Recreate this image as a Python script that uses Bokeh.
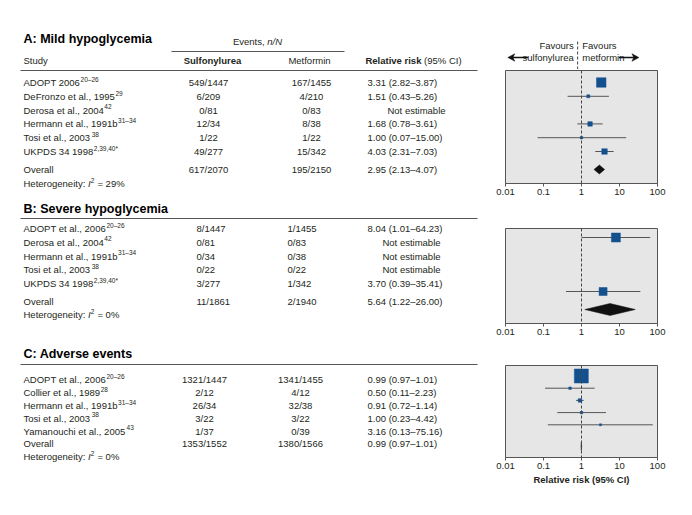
import math
from bokeh.plotting import figure
from bokeh.layouts import row, column
from bokeh.models import (Range1d, Span, FixedTicker,
                          CustomJSTickFormatter, ColumnDataSource)
from bokeh.embed import file_html
from bokeh.resources import INLINE
from bokeh.core.properties import value

# ------------------------------------------------------------------ data
# A: Mild hypoglycemia
a_studies = ["ADOPT 2006", "DeFronzo et al., 1995", "Derosa et al., 2004",
             "Hermann et al., 1991b", "Tosi et al., 2003", "UKPDS 34 1998"]
a_refs = ["20–26", "29", "42", "31–34", "38", "2,39,40*"]
a_sulf_e = [549, 6, 0, 12, 1, 49]
a_sulf_n = [1447, 209, 81, 34, 22, 277]
a_met_e = [167, 4, 0, 8, 1, 15]
a_met_n = [1455, 210, 83, 38, 22, 342]
a_rr = [3.31, 1.51, None, 1.68, 1.00, 4.03]
a_lo = [2.82, 0.43, None, 0.78, 0.07, 2.31]
a_hi = [3.87, 5.26, None, 3.61, 15.00, 7.03]
a_overall_events = [617, 2070, 195, 2150]
a_overall_rr = [2.95, 2.13, 4.07]
a_i2 = 29

# B: Severe hypoglycemia
b_studies = ["ADOPT et al., 2006", "Derosa et al., 2004", "Hermann et al., 1991b",
             "Tosi et al., 2003", "UKPDS 34 1998"]
b_refs = ["20–26", "42", "31–34", "38", "2,39,40*"]
b_sulf_e = [8, 0, 0, 0, 3]
b_sulf_n = [1447, 81, 34, 22, 277]
b_met_e = [1, 0, 0, 0, 1]
b_met_n = [1455, 83, 38, 22, 342]
b_rr = [8.04, None, None, None, 3.70]
b_lo = [1.01, None, None, None, 0.39]
b_hi = [64.23, None, None, None, 35.41]
b_overall_events = [11, 1861, 2, 1940]
b_overall_rr = [5.64, 1.22, 26.00]
b_i2 = 0

# C: Adverse events
c_studies = ["ADOPT et al., 2006", "Collier et al., 1989", "Hermann et al., 1991b",
             "Tosi et al., 2003", "Yamanouchi et al., 2005"]
c_refs = ["20–26", "28", "31–34", "38", "43"]
c_sulf_e = [1321, 2, 26, 3, 1]
c_sulf_n = [1447, 12, 34, 22, 37]
c_met_e = [1341, 4, 32, 3, 0]
c_met_n = [1455, 12, 38, 22, 39]
c_rr = [0.99, 0.50, 0.91, 1.00, 3.16]
c_lo = [0.97, 0.11, 0.72, 0.23, 0.13]
c_hi = [1.01, 2.23, 1.14, 4.42, 75.16]
c_overall_events = [1353, 1552, 1380, 1566]
c_overall_rr = [0.99, 0.97, 1.01]
c_i2 = 0

tick_values = [0.01, 0.1, 1, 10, 100]
null_value = 1

# ------------------------------------------------------------------ style
FONT = "Liberation Sans"
TXT = "#231f20"
BLUE = "#13508e"
BOX = "#e6e6e6"
EDGE = "#555555"
FS = 9.5
SUP = 6.5

REG = {' ': 278, ',': 278, '.': 278, ':': 278, '/': 278, '–': 556, '(': 333, ')': 333,
       '%': 889, '*': 389, '=': 584, '-': 333}
BLD = {' ': 278, ',': 278, '.': 278, ':': 333, '/': 278, '–': 556, '(': 333, ')': 333,
       '%': 889, '*': 389, '=': 584, '-': 333}
for ch in "0123456789":
    REG[ch] = 556
    BLD[ch] = 556
REG.update(dict(zip("ABCDEFGHIJKLMNOPQRSTUVWXYZ",
                    [667, 667, 722, 722, 667, 611, 778, 722, 278, 500, 667, 556, 833, 722,
                     778, 667, 778, 722, 667, 611, 722, 667, 944, 667, 667, 611])))
REG.update(dict(zip("abcdefghijklmnopqrstuvwxyz",
                    [556, 556, 500, 556, 556, 278, 556, 556, 222, 222, 500, 222, 833, 556,
                     556, 556, 556, 333, 500, 278, 556, 500, 722, 500, 500, 500])))
BLD.update(dict(zip("ABCDEFGHIJKLMNOPQRSTUVWXYZ",
                    [722, 722, 722, 722, 667, 611, 778, 722, 278, 556, 722, 611, 833, 722,
                     778, 667, 778, 722, 667, 611, 722, 667, 944, 667, 667, 611])))
BLD.update(dict(zip("abcdefghijklmnopqrstuvwxyz",
                    [556, 611, 556, 611, 556, 333, 611, 611, 278, 278, 556, 278, 889, 611,
                     611, 611, 611, 389, 556, 333, 611, 556, 778, 556, 556, 500])))


def tw(s, size=FS, bold=False):
    tab = BLD if bold else REG
    return sum(tab.get(c, 556) for c in s) * size / 1000.0


class Texts:
    def __init__(self):
        self.groups = {}

    def add(self, x, y, s, size=FS, style="normal", align="left", color=TXT):
        key = (size, style, align, color)
        g = self.groups.setdefault(key, dict(x=[], y=[], text=[]))
        g["x"].append(x)
        g["y"].append(y)
        g["text"].append(s)

    def draw(self, p):
        for (size, style, align, color), g in self.groups.items():
            p.text(x="x", y="y", text="text", source=ColumnDataSource(g),
                   text_font=value(FONT), text_font_size=value(f"{size}px"),
                   text_font_style=value(style), text_align=value(align),
                   text_baseline=value("middle"), text_color=color)


def fmt_rr(r, l, h):
    return f"{r:.2f} ({l:.2f}–{h:.2f})"


# ------------------------------------------------------------------ table
T = Texts()
segs = dict(x0=[], y0=[], x1=[], y1=[])


def hline(x0, x1, y):
    segs["x0"].append(x0); segs["x1"].append(x1)
    segs["y0"].append(y); segs["y1"].append(y)


NAME_X = 23
RR_X = 367


def study_name(name, ref, y):
    T.add(NAME_X, y, name)
    T.add(NAME_X + tw(name) + 0.6, y - 3.3, ref, size=SUP)


def heterogeneity(y, i2):
    a = "Heterogeneity:"
    T.add(NAME_X, y, a)
    x = NAME_X + tw(a + " ")
    T.add(x, y, "I", style="italic")
    x += tw("I")
    T.add(x + 0.3, y - 3.3, "2", size=SUP)
    x += tw("2", SUP) + 0.6
    T.add(x + tw(" "), y, f"= {i2}%")


def panel_table(title, title_y, row_ys, ov_y, het_y, studies, refs, se, sn, me, mn,
                rr, lo, hi, ov_ev, ov_rr, i2, sulf_pos, met_pos, ne_x):
    T.add(NAME_X, title_y, title, size=12.5, style="bold", color="#000000")
    for i, y in enumerate(row_ys):
        study_name(studies[i], refs[i], y)
        T.add(sulf_pos[0], y, f"{se[i]}/{sn[i]}", align=sulf_pos[1])
        T.add(met_pos[0], y, f"{me[i]}/{mn[i]}", align=met_pos[1])
        if rr[i] is None:
            T.add(ne_x, y, "Not estimable", align="center")
        else:
            T.add(RR_X, y, fmt_rr(rr[i], lo[i], hi[i]))
    T.add(NAME_X, ov_y, "Overall")
    T.add(sulf_pos[0], ov_y, f"{ov_ev[0]}/{ov_ev[1]}", align=sulf_pos[1])
    T.add(met_pos[0], ov_y, f"{ov_ev[2]}/{ov_ev[3]}", align=met_pos[1])
    T.add(RR_X, ov_y, fmt_rr(*ov_rr))
    heterogeneity(het_y, i2)


# column headers (panel A)
ev_a, ev_b = "Events,", "n/N"
ex = 257 - (tw(ev_a + " ") + tw(ev_b)) / 2
T.add(ex, 41, ev_a)
T.add(ex + tw(ev_a + " "), 41, ev_b, style="italic")
hline(171, 344, 51)
T.add(NAME_X, 60, "Study")
T.add(212, 60, "Sulfonylurea", style="bold", align="center")
T.add(309, 60, "Metformin", align="center")
rr_a, rr_b = "Relative risk", "(95% CI)"
rx = 413 - (tw(rr_a + " ", bold=True) + tw(rr_b)) / 2
T.add(rx, 60, rr_a, style="bold")
T.add(rx + tw(rr_a + " ", bold=True), 60, rr_b)
hline(20, 477, 70)

panel_table("A: Mild hypoglycemia", 38, [82 + 13.8 * i for i in range(6)], 169, 183,
            a_studies, a_refs, a_sulf_e, a_sulf_n, a_met_e, a_met_n, a_rr, a_lo, a_hi,
            a_overall_events, a_overall_rr, a_i2, (208, "center"), (311, "center"), 416)

hline(20, 477, 218)
panel_table("B: Severe hypoglycemia", 208, [228 + 13.75 * i for i in range(5)], 301, 314,
            b_studies, b_refs, b_sulf_e, b_sulf_n, b_met_e, b_met_n, b_rr, b_lo, b_hi,
            b_overall_events, b_overall_rr, b_i2, (196, "left"), (287, "left"), 411)

hline(20, 477, 364)
panel_table("C: Adverse events", 353, [379 + 12.9 * i for i in range(5)], 443, 456,
            c_studies, c_refs, c_sulf_e, c_sulf_n, c_met_e, c_met_n, c_rr, c_lo, c_hi,
            c_overall_events, c_overall_rr, c_i2, (204, "center"), (300, "center"), 414)

tab = figure(width=488, height=507, x_range=Range1d(0, 488), y_range=Range1d(507, 0),
             output_backend="svg", toolbar_location=None, min_border=0,
             x_axis_location=None, y_axis_location=None, outline_line_color=None)
tab.grid.visible = False
tab.segment(x0="x0", y0="y0", x1="x1", y1="y1", source=ColumnDataSource(segs),
            line_color=EDGE, line_width=1)
T.draw(tab)

# ------------------------------------------------------------------ forest header
PX0, PXPD = 505.0, 38.0   # page x of RR 0.01, pixels per decade
null_px = PX0 + PXPD * (math.log10(null_value) + 2)

hdr = figure(width=196, height=69, x_range=Range1d(488, 684), y_range=Range1d(69, 0),
             output_backend="svg", toolbar_location=None, min_border=0,
             x_axis_location=None, y_axis_location=None, outline_line_color=None)
hdr.grid.visible = False
H = Texts()
H.add(null_px - 5, 45, "Favours", align="right")
H.add(null_px - 5, 57, "sulfonylurea", align="right")
H.add(null_px + 6, 45, "Favours", align="left")
H.add(null_px + 6, 57, "metformin", align="left")
H.draw(hdr)
hdr.segment(x0=[null_px], y0=[41], x1=[null_px], y1=[69], line_color="#444444",
            line_dash="3 2", line_width=1)

# arrows drawn as shaft + vee-shaped head
AY = 57
arrows = [(517, 491), (634, 660)]
shaft = dict(x0=[], y0=[], x1=[], y1=[])
heads_x, heads_y = [], []
for xs, xe in arrows:
    d = 1 if xe > xs else -1
    shaft["x0"].append(xs); shaft["x1"].append(xe - d * 3)
    shaft["y0"].append(AY); shaft["y1"].append(AY)
    heads_x.append([xe, xe - d * 9, xe - d * 6.5, xe - d * 9])
    heads_y.append([AY, AY - 3.8, AY, AY + 3.8])
hdr.segment(x0="x0", y0="y0", x1="x1", y1="y1", source=ColumnDataSource(shaft),
            line_color="#111111", line_width=1.3)
hdr.patches(xs=heads_x, ys=heads_y, fill_color="#111111", line_color="#111111",
            line_width=0.5)


# ------------------------------------------------------------------ forest panels
def forest(top_b, f_top, f_bot, bot_b, y0, dy, rr, lo, hi, sizes, ov_rr, ov_y, dia_half,
           axis_label=None):
    ystart = (f_bot - y0) / dy
    yend = (f_top - y0) / dy
    p = figure(width=196, height=top_b + (f_bot - f_top) + bot_b, x_axis_type="log",
               x_range=Range1d(0.01, 100), y_range=Range1d(start=ystart, end=yend),
               output_backend="svg", toolbar_location=None,
               min_border_left=int(PX0 - 488), min_border_right=int(684 - (PX0 + 4 * PXPD)),
               min_border_top=top_b, min_border_bottom=bot_b, y_axis_location=None,
               background_fill_color=BOX, border_fill_color="white",
               outline_line_color=EDGE, outline_line_width=1)
    p.grid.visible = False
    ax = p.xaxis[0]
    ax.ticker = FixedTicker(ticks=tick_values, minor_ticks=[])
    ax.formatter = CustomJSTickFormatter(code="return tick.toString();")
    ax.axis_line_color = EDGE
    ax.major_tick_line_color = EDGE
    ax.major_tick_out = 3
    ax.major_tick_in = 0
    ax.minor_tick_out = 0
    ax.minor_tick_in = 0
    ax.major_label_standoff = 2
    ax.major_label_text_font = FONT
    ax.major_label_text_font_size = f"{FS}px"
    ax.major_label_text_color = TXT
    if axis_label:
        ax.axis_label = axis_label
        ax.axis_label_text_font = FONT
        ax.axis_label_text_font_size = f"{FS}px"
        ax.axis_label_text_font_style = "bold"
        ax.axis_label_text_color = TXT
        ax.axis_label_standoff = 2
    p.add_layout(Span(location=null_value, dimension="height", line_color="#444444",
                      line_dash="3 2", line_width=1))
    idx = [i for i in range(len(rr)) if rr[i] is not None]
    p.segment(x0=[lo[i] for i in idx], y0=idx, x1=[hi[i] for i in idx], y1=idx,
              line_color=EDGE, line_width=1)
    p.scatter(x=[rr[i] for i in idx], y=idx, size=[sizes[i] for i in idx],
              marker="square", fill_color=BLUE, line_color=BLUE, line_width=0.5)
    oy = (ov_y - y0) / dy
    h = dia_half / dy
    est, l, u = ov_rr
    p.patch(x=[l, est, u, est], y=[oy, oy - h, oy, oy + h], fill_color="#111111",
            line_color="#111111", line_width=0.5)
    return p


a_sizes = [9.5, 3, 0, 4.5, 2.5, 5.5]
b_sizes = [9, 0, 0, 0, 8]
c_sizes = [14, 2.5, 3.5, 2.5, 2]

fa = forest(1, 70, 183, 22, 82, 13.8, a_rr, a_lo, a_hi, a_sizes, a_overall_rr, 169, 4.5)
fb = forest(23, 228, 323, 17, 237, 13.5, b_rr, b_lo, b_hi, b_sizes, b_overall_rr, 309, 6)
fc = forest(25, 365, 457, 50, 375.5, 12.2, c_rr, c_lo, c_hi, c_sizes, c_overall_rr, 446, 4,
            axis_label="Relative risk (95% CI)")

layout = row(tab, column(hdr, fa, fb, fc))
open("out.html", "w").write(file_html(layout, INLINE))
